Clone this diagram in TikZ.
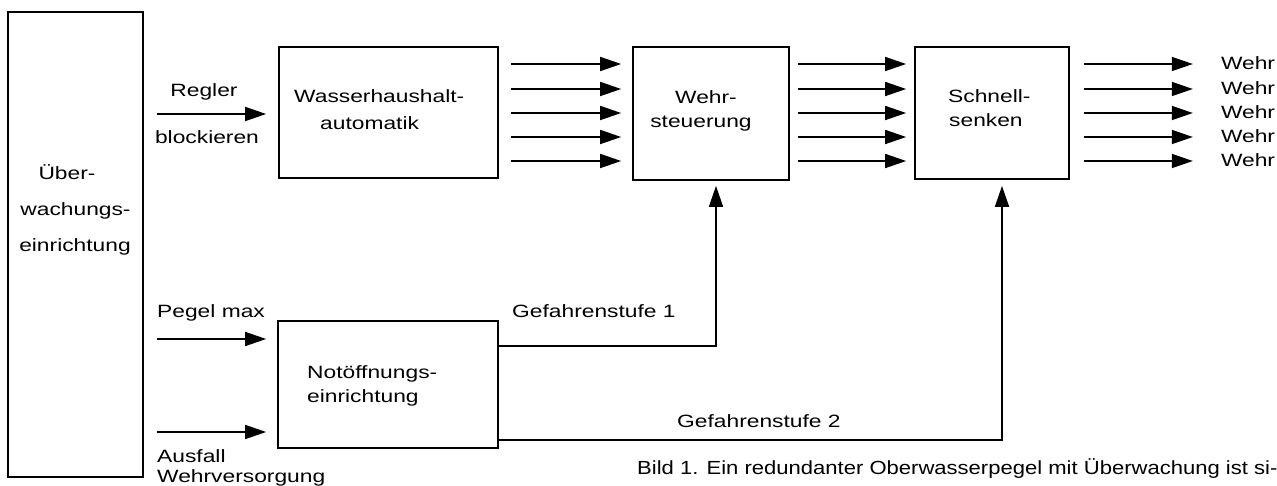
\documentclass[tikz,border=0pt]{standalone}
\usepackage{fontspec}
\setmainfont{Liberation Sans}[FakeStretch=1.28]
\newfontfamily\capfont{Liberation Sans}[FakeStretch=1.16]
\usetikzlibrary{arrows.meta}

\tikzset{
  blk/.style={draw, line width=1.7pt, inner sep=0pt},
  arr/.style={line width=1.6pt, -{Triangle[length=21pt,width=14pt]}},
  lbl/.style={inner sep=0pt, font=\fontsize{17.8pt}{20pt}\selectfont},
}

\begin{document}
\begin{tikzpicture}[x=1pt, y=-1pt]
\useasboundingbox (0,0) rectangle (1277,486);
\clip (0,0) rectangle (1277,486);

% blocks
\node[blk, minimum width=135pt, minimum height=465pt] (mon) at (75.5,244.5) {};
\node[blk, minimum width=219pt, minimum height=131pt] (wh) at (388.5,112.5) {};
\node[blk, minimum width=156pt, minimum height=133pt] (ws) at (711,113.5) {};
\node[blk, minimum width=154pt, minimum height=132pt] (ss) at (992,113) {};
\node[blk, minimum width=220pt, minimum height=127pt] (no) at (388,384.5) {};

% block texts
\node[lbl, anchor=base] (mon1) at (67,180) {Über-};
\node[lbl, anchor=base] (mon2) at (75.5,216) {wachungs-};
\node[lbl, anchor=base] (mon3) at (75,252) {einrichtung};

\node[lbl, anchor=base west] (wh1) at (294,103) {Wasserhaushalt-};
\node[lbl, anchor=base west] (wh2) at (320,130) {automatik};

\node[lbl, anchor=base] (ws1) at (706,104) {Wehr-};
\node[lbl, anchor=base] (ws2) at (701,128) {steuerung};

\node[lbl, anchor=base west] (ss1) at (948,103) {Schnell-};
\node[lbl, anchor=base west] (ss2) at (949,127) {senken};

\node[lbl, anchor=base west] (no1) at (307,378) {Notöffnungs-};
\node[lbl, anchor=base west] (no2) at (307,402) {einrichtung};

% row heights of the parallel signal lines
\foreach \y [count=\i] in {64,89,113,137,161} {
  \coordinate (r\i) at (0,\y);
  \draw[arr] ([xshift=12pt]wh.east |- r\i) -- ([xshift=-11pt]ws.west |- r\i);
  \draw[arr] ([xshift=8pt]ws.east |- r\i) -- ([xshift=-8pt]ss.west |- r\i);
  \draw[arr] ([xshift=14pt]ss.east |- r\i) coordinate (o\i) -- ++(109,0) coordinate (t\i);
  \node[lbl, anchor=base west] (out\i) at ([xshift=28pt,yshift=-6pt]t\i) {Wehr};
}

% inputs from the monitoring unit
\coordinate (inR) at (157,114);
\draw[arr] (inR) -- ([xshift=-12pt]wh.west |- inR);
\node[lbl, anchor=base] (regler) at (204,97) {Regler};
\node[lbl, anchor=base] (block) at (207,144) {blockieren};

\coordinate (inP) at (157,339);
\draw[arr] (inP) -- ([xshift=-11pt]no.west |- inP);
\node[lbl, anchor=base west] (pegel) at (157,317) {Pegel max};

\coordinate (inA) at (157,432);
\draw[arr] (inA) -- ([xshift=-11pt]no.west |- inA);
\node[lbl, anchor=base west] (ausf1) at (157,462) {Ausfall};
\node[lbl, anchor=base west] (ausf2) at (157,482) {Wehrversorgung};

% danger levels
\coordinate (g1) at (716,346);
\draw[arr] (no.east |- g1) -- (g1) -- ([yshift=-5pt]ws.south -| g1);
\node[lbl, anchor=base west] (gef1) at (512,318) {Gefahrenstufe 1};

\coordinate (g2) at (1002,440);
\draw[arr] (no.east |- g2) -- (g2) -- ([yshift=-6pt]ss.south -| g2);
\node[lbl, anchor=base west] (gef2) at (677,427.5) {Gefahrenstufe 2};

% caption
\node[inner sep=0pt, anchor=base west, font=\capfont\fontsize{19pt}{24pt}\selectfont] (cap) at (637,474)
  {Bild 1. Ein redundanter Oberwasserpegel mit Überwachung ist si-};
\end{tikzpicture}
\end{document}
